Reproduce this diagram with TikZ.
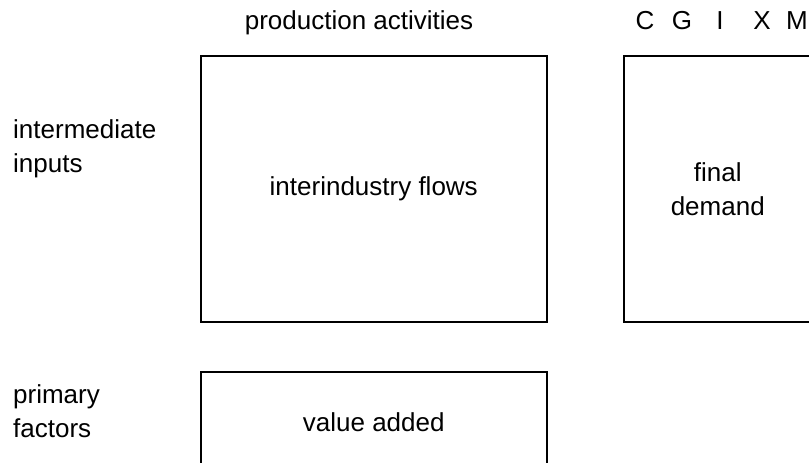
\documentclass[tikz,border=0pt]{standalone}
\usepackage{fontspec}
\setmainfont{Liberation Sans}
\begin{document}
\begin{tikzpicture}[x=1pt,y=1pt,
  every node/.style={font=\fontsize{26}{34}\selectfont, inner sep=0pt},
  blk/.style={draw=black, line width=1.5pt, anchor=north west, align=center},
  lbl/.style={anchor=base west, align=left},
  hdr/.style={anchor=base}]
\useasboundingbox (0,0) rectangle (809,-463);
\clip (0,0) rectangle (809,-463);
\node[blk, minimum width=346, minimum height=266] (flows) at (200,-55) {interindustry flows};
\node[blk, minimum width=188, minimum height=266] (final) at (623,-55) {final\\demand};
\node[blk, minimum width=346, minimum height=100] (va) at (200,-371) {value added};
\node[hdr] (prod) at (359,-29) {production activities};
\node[hdr] (c) at (645,-29) {C};
\node[hdr] (g) at (682,-29) {G};
\node[hdr] (i) at (720,-29) {I};
\node[hdr] (x) at (762,-29) {X};
\node[hdr] (m) at (797,-29) {M};
\node[lbl] (inter) at (13,-172) {intermediate\\inputs};
\node[lbl] (prim) at (13,-437) {primary\\factors};
\end{tikzpicture}
\end{document}
